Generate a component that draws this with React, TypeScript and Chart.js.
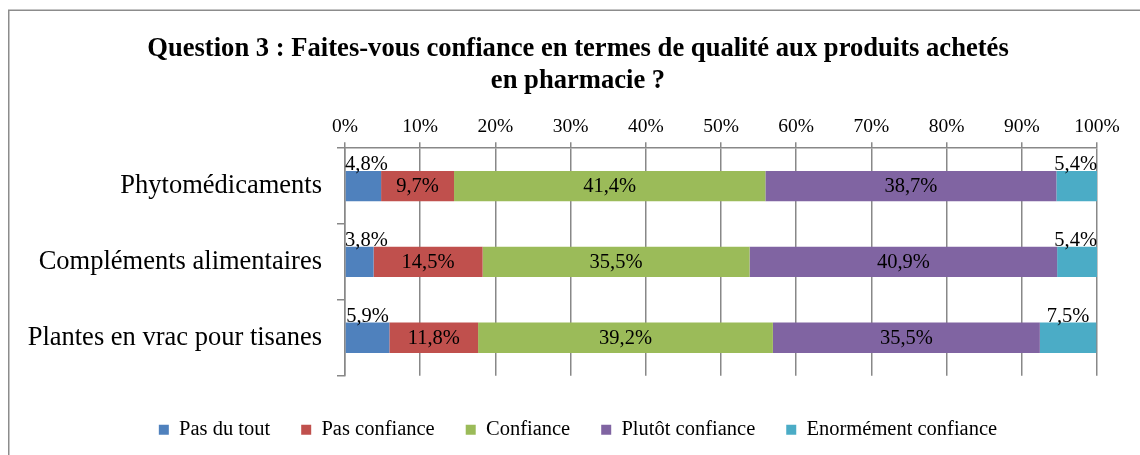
import React, { useEffect, useRef } from "react";
import { Chart, registerables } from "chart.js";

Chart.register(...registerables);

const categories = ["Phytomédicaments", "Compléments alimentaires", "Plantes en vrac pour tisanes"];
const seriesNames = ["Pas du tout", "Pas confiance", "Confiance", "Plutôt confiance", "Enormément confiance"];
const pasDuTout = [4.8, 3.8, 5.9];
const pasConfiance = [9.7, 14.5, 11.8];
const confiance = [41.4, 35.5, 39.2];
const plutotConfiance = [38.7, 40.9, 35.5];
const enormementConfiance = [5.4, 5.4, 7.5];
const seriesValues = [pasDuTout, pasConfiance, confiance, plutotConfiance, enormementConfiance];
const seriesColors = ["#4F81BD", "#C0504D", "#9BBB59", "#8064A2", "#4BACC6"];
const labelAbove = [true, false, false, false, true];
const titleLines = ["Question 3 : Faites-vous confiance en termes de qualité aux produits achetés", "en pharmacie ?"];

const FONT = "'Liberation Serif', 'Times New Roman', serif";
const GRID = "#888888";

const fmt = (v: number) => v.toFixed(1).replace(".", ",") + "%";

const borderPlugin = {
  id: "outerBorder",
  beforeDraw(chart: any) {
    const ctx = chart.ctx;
    ctx.save();
    ctx.strokeStyle = "#8c8c8c";
    ctx.lineWidth = 1.5;
    ctx.beginPath();
    ctx.moveTo(8.75, chart.height);
    ctx.lineTo(8.75, 10.25);
    ctx.lineTo(chart.width, 10.25);
    ctx.stroke();
    ctx.restore();
  },
};

const dataLabelPlugin = {
  id: "dataLabels",
  afterDatasetsDraw(chart: any) {
    const ctx = chart.ctx;
    const area = chart.chartArea;
    ctx.save();
    ctx.font = `20.5px ${FONT}`;
    ctx.fillStyle = "#000";
    chart.data.datasets.forEach((ds: any, di: number) => {
      const meta = chart.getDatasetMeta(di);
      meta.data.forEach((el: any, i: number) => {
        const v = ds.data[i];
        const p = el.getProps(["x", "y", "base", "height"], true);
        const text = fmt(v);
        const cx = (Math.min(p.x, area.right) + p.base) / 2;
        if (labelAbove[di]) {
          const w = ctx.measureText(text).width;
          let left = cx - w / 2;
          left = Math.max(area.left, Math.min(left, area.right - w));
          ctx.textAlign = "left";
          ctx.textBaseline = "alphabetic";
          ctx.fillText(text, left, p.y - p.height / 2 - 1);
        } else {
          ctx.textAlign = "center";
          ctx.textBaseline = "middle";
          ctx.fillText(text, cx, p.y + 1);
        }
      });
    });
    ctx.restore();
  },
};

const PAD_LEFT = 20;
const PAD_RIGHT = 4;
const PLOT_LEFT = 345;
const PLOT_RIGHT_GAP = 43;

export default function App() {
  const ref = useRef<HTMLCanvasElement>(null);
  useEffect(() => {
    if (!ref.current) return;
    const chart = new Chart(ref.current, {
      type: "bar",
      data: {
        labels: categories,
        datasets: seriesNames.map((name, i) => ({
          label: name,
          data: seriesValues[i],
          backgroundColor: seriesColors[i],
          borderWidth: 0,
          categoryPercentage: 1,
          barPercentage: 0.4,
        })),
      },
      options: {
        indexAxis: "y",
        animation: false,
        responsive: false,
        devicePixelRatio: 1,
        layout: { padding: { top: 10, left: PAD_LEFT, right: PAD_RIGHT, bottom: 5 } },
        scales: {
          x: {
            position: "top",
            stacked: true,
            min: 0,
            max: 100,
            ticks: {
              stepSize: 10,
              color: "#000",
              font: { family: FONT, size: 19.5 },
              padding: 4,
              callback: (v: any) => v + "%",
            },
            grid: { color: GRID, lineWidth: 1.5, tickLength: 6, drawTicks: true },
            border: { display: true, color: GRID, width: 1.5 },
            afterFit: (s: any) => {
              s.paddingLeft = 0;
              s.paddingRight = PLOT_RIGHT_GAP;
            },
          },
          y: {
            stacked: true,
            offset: true,
            ticks: { color: "#000", font: { family: FONT, size: 26.5 }, padding: 15 },
            grid: { offset: true, drawOnChartArea: false, drawTicks: true, tickLength: 8, color: GRID, lineWidth: 1.5 },
            border: { display: true, color: GRID, width: 1.5 },
            afterFit: (s: any) => {
              s.width = PLOT_LEFT - PAD_LEFT;
              s.paddingTop = 0;
              s.paddingBottom = 0;
            },
          },
        },
        plugins: {
          title: {
            display: true,
            text: titleLines,
            color: "#000",
            font: { family: FONT, size: 26.6, weight: "bold" },
            padding: { top: 23.4, bottom: 13.5 },
          },
          legend: {
            position: "bottom",
            title: { display: true, text: "", font: { size: 9 }, padding: 1 },
            labels: {
              color: "#000",
              font: { family: FONT, size: 20.5 },
              boxWidth: 10,
              boxHeight: 10,
              padding: 31,
            },
          },
          tooltip: { enabled: false },
        },
      },
      plugins: [borderPlugin, dataLabelPlugin],
    } as any);
    return () => chart.destroy();
  }, []);
  return (
    <div style={{ position: "absolute", left: 0, top: 0, width: 1140, height: 455, background: "#fff" }}>
      <canvas ref={ref} width={1140} height={455} />
    </div>
  );
}
